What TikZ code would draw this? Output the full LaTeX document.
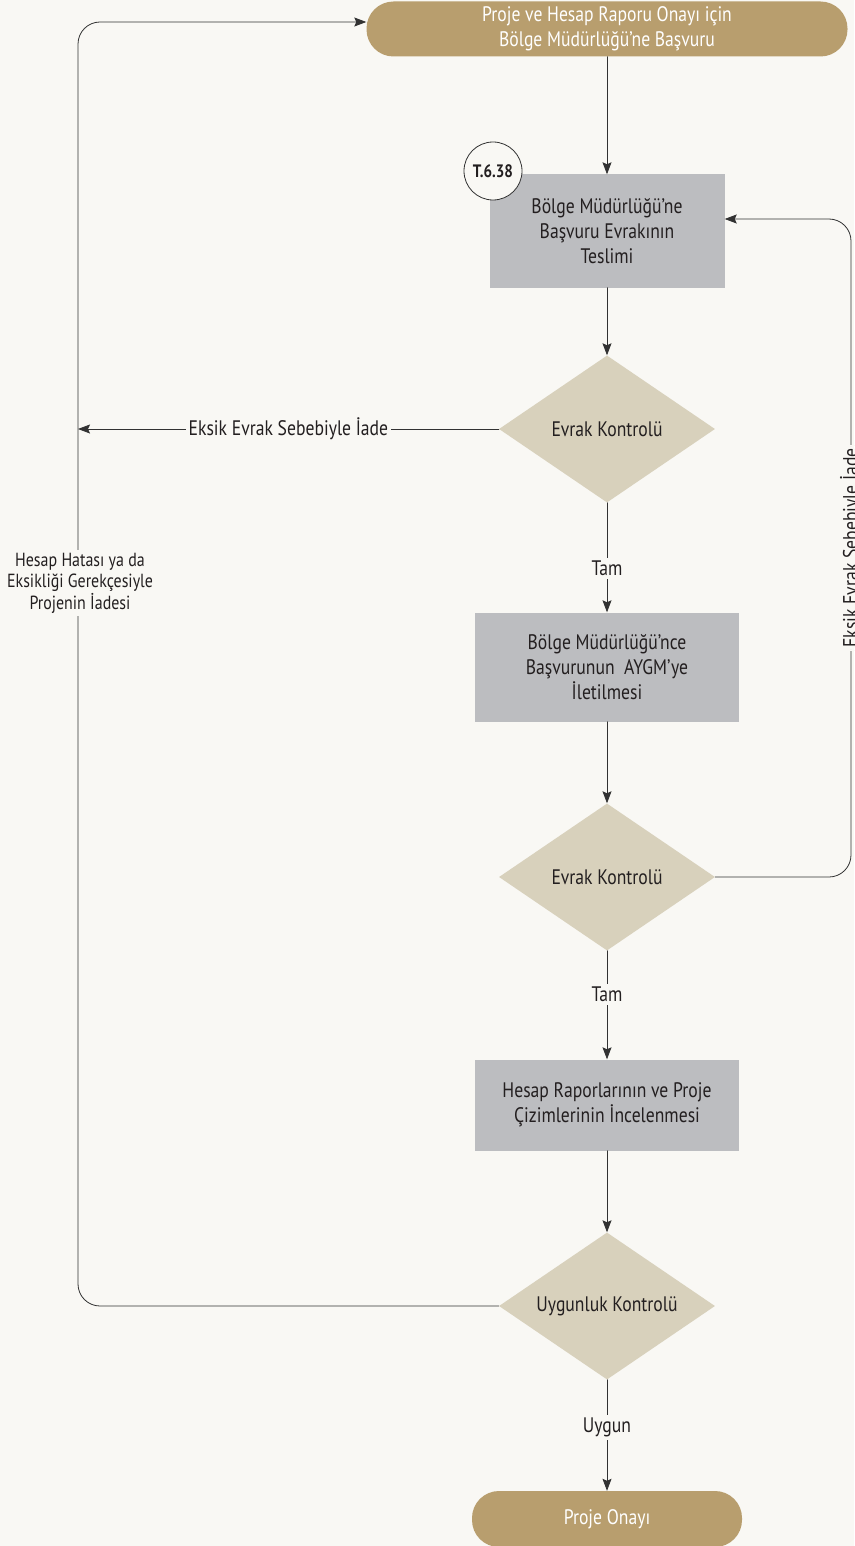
\documentclass[tikz,border=0pt]{standalone}
\usepackage{fontspec}
\setmainfont[FakeStretch=0.84]{PT Sans}
\usetikzlibrary{shapes.geometric,arrows.meta}
\definecolor{bg}{rgb}{0.976,0.973,0.957}
\definecolor{gold}{RGB}{184,158,110}
\definecolor{sand}{RGB}{216,209,188}
\definecolor{boxgray}{RGB}{188,189,192}
\definecolor{linegray}{RGB}{50,50,50}
\definecolor{ink}{RGB}{35,31,32}

\begin{document}
\begin{tikzpicture}[x=1pt,y=-1pt,line cap=round,line join=round,
	font=\fontsize{21}{25}\selectfont,text=ink,
	term/.style={fill=gold,rounded corners=27pt,inner sep=0pt,align=center,text=white},
	kutu/.style={fill=boxgray,inner sep=0pt,align=center},
	karar/.style={diamond,fill=sand,inner sep=0pt,aspect=1.47,minimum width=216pt,minimum height=147pt},
	conn/.style={draw=linegray,line width=0.8pt,-{Stealth[length=12pt,width=9pt,inset=2pt]}},
	lbl/.style={fill=bg,inner sep=3pt,align=center}]
	\fill[bg] (0,0) rectangle (854,1546);
	\useasboundingbox (0,0) rectangle (854,1546);

	% terminals
	\node[term,minimum width=481pt,minimum height=55pt] (basvuru) at (607,29) {Proje ve Hesap Raporu Onayı için\\Bölge Müdürlüğü’ne Başvuru};
	\node[term,minimum width=270pt,minimum height=56pt] (onay) at (607,1519) {Proje Onayı};

	% islem kutulari
	\node[kutu,minimum width=235pt,minimum height=113pt] (teslim) at (607,231) {Bölge Müdürlüğü’ne\\Başvuru Evrakının\\Teslimi};
	\node[kutu,minimum width=264pt,minimum height=109pt] (ilet) at (607,667) {Bölge Müdürlüğü’nce\\Başvurunun \ AYGM’ye\\İletilmesi};
	\node[kutu,minimum width=264pt,minimum height=91pt] (incele) at (607,1105) {Hesap Raporlarının ve Proje\\Çizimlerinin İncelenmesi};
	\node[circle,draw=linegray,line width=0.8pt,fill=bg,minimum size=58pt,inner sep=0pt,font=\fontsize{18}{20}\selectfont\bfseries] (kod) at (493,171) {T.6.38};

	% kararlar
	\node[karar] (kontrol1) at (607,429) {Evrak Kontrolü};
	\node[karar] (kontrol2) at (607,877) {Evrak Kontrolü};
	\node[karar] (kontrol3) at (607,1306) {Uygunluk Kontrolü};

	% ana akis
	\draw[conn] (basvuru) -- (teslim);
	\draw[conn] (teslim) -- (kontrol1);
	\draw[conn] (kontrol1) -- node[lbl,pos=0.6] {Tam} (ilet);
	\draw[conn] (ilet) -- (kontrol2);
	\draw[conn] (kontrol2) -- node[lbl,pos=0.4] {Tam} (incele);
	\draw[conn] (incele) -- (kontrol3);
	\draw[conn] (kontrol3) -- node[lbl,pos=0.43] {Uygun} (onay);

	% geri donusler
	\coordinate (solhat) at (78,429);
	\draw[conn] (kontrol1.west) -- node[lbl] {Eksik Evrak Sebebiyle İade} (solhat);
	\draw[conn,rounded corners=22pt] (kontrol2.east) -- (851,877) -- node[lbl,rotate=90] {Eksik Evrak Sebebiyle İade} (851,219) -- ([yshift=12pt]teslim.east);
	\draw[conn,rounded corners=22pt] (kontrol3.west) -- (78,1306) -- (78,22) -- ([yshift=7pt]basvuru.west);
	\node[lbl,font=\fontsize{19}{21.5}\selectfont] (iade) at (80,583) {Hesap Hatası ya da\\Eksikliği Gerekçesiyle\\Projenin İadesi};
\end{tikzpicture}
\end{document}
